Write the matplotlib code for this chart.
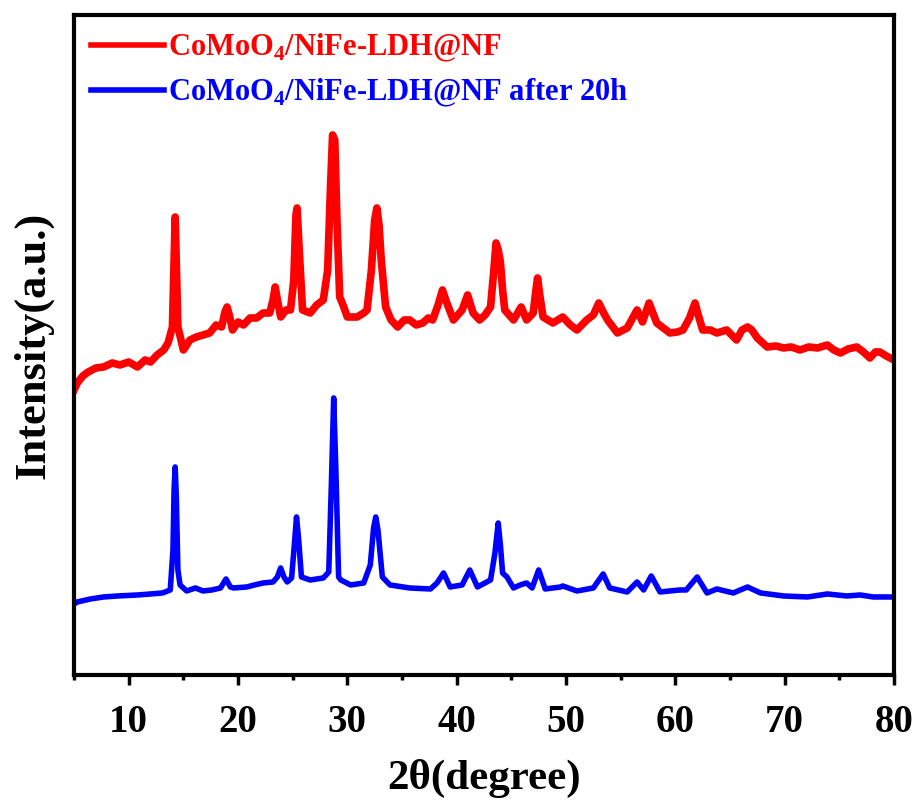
import matplotlib
matplotlib.use('Agg')
import matplotlib.pyplot as plt
from matplotlib.ticker import MultipleLocator

# Font podobný Times New Roman (tučný)
plt.rcParams['font.family'] = ['Liberation Serif', 'DejaVu Serif']
plt.rcParams['font.weight'] = 'bold'
plt.rcParams['mathtext.fontset'] = 'custom'
plt.rcParams['mathtext.rm'] = 'Liberation Serif:bold'
plt.rcParams['mathtext.bf'] = 'Liberation Serif:bold'

# Data (2θ ve stupních, intenzita v libovolných jednotkách)
red_x = [5.0, 5.3, 5.8, 6.3, 7.0, 7.7, 8.5, 9.2, 10.0, 10.8, 11.5, 12.0, 12.6, 13.2, 13.6,
         14.0, 14.15, 14.25, 14.35, 14.5, 15.0, 15.6, 16.2, 16.8, 17.4, 18.0, 18.5, 18.8, 19.0,
         19.2, 19.5, 20.0, 20.5, 21.1, 21.7, 22.3, 22.9, 23.2, 23.4, 23.6, 23.9, 24.4, 24.8,
         25.1, 25.3, 25.4, 25.6, 25.9, 26.6, 27.2, 27.8, 28.2, 28.45, 28.65, 28.85, 29.05, 29.3,
         29.6, 30.0, 30.9, 31.5, 31.8, 32.2, 32.5, 32.7, 32.9, 33.1, 33.5, 34.0, 34.6, 35.2,
         35.7, 36.3, 36.9, 37.4, 37.8, 38.3, 38.7, 39.1, 39.7, 40.1, 40.5, 41.0, 41.5, 42.1,
         42.6, 43.1, 43.4, 43.6, 43.8, 44.0, 44.2, 44.4, 45.2, 45.9, 46.4, 47.0, 47.25, 47.4,
         47.6, 47.9, 48.8, 49.7, 50.4, 51.0, 51.9, 52.5, 53.0, 53.4, 53.8, 54.7, 55.6, 56.5,
         57.0, 57.6, 58.3, 59.5, 60.2, 60.7, 61.3, 61.8, 62.1, 62.5, 63.2, 63.8, 64.7, 65.6,
         66.1, 66.6, 67.0, 67.5, 68.4, 69.2, 69.9, 70.6, 71.4, 72.2, 73.0, 73.9, 74.5, 75.1,
         75.8, 76.6, 77.2, 77.8, 78.3, 78.7, 79.3, 80.0]
red_y = [285, 292, 299, 303, 307, 308, 312, 310, 313, 308, 315, 313, 320, 325, 332,
         348, 415, 458, 415, 348, 325, 335, 338, 340, 342, 350, 348, 363, 368,
         360, 345, 353, 350, 357, 357, 362, 362, 375, 388, 375, 358, 365, 365,
         395, 460, 467, 425, 365, 362, 370, 375, 405, 485, 540, 535, 455, 378,
         370, 358, 358, 362, 365, 405, 455, 467, 450, 415, 368, 355, 348, 355,
         355, 350, 352, 357, 355, 370, 385, 372, 355, 360, 365, 380, 362, 355,
         360, 368, 405, 432, 425, 413, 385, 365, 355, 368, 355, 362, 385, 397,
         380, 358, 352, 358, 350, 345, 355, 360, 372, 363, 355, 342, 347, 365,
         353, 372, 352, 342, 343, 345, 357, 372, 360, 345, 345, 342, 345, 335,
         345, 348, 345, 337, 328, 329, 327, 328, 325, 328, 327, 330, 325, 322,
         326, 328, 323, 317, 323, 323, 319, 315]

blue_x = [5.0, 5.3, 6.5, 7.7, 9.0, 10.8, 12.0, 13.1, 13.8, 14.05, 14.15, 14.25, 14.35, 14.5,
          14.7, 15.3, 16.1, 16.8, 17.6, 18.4, 18.9, 19.3, 19.6, 20.8, 21.5, 22.3, 23.2, 23.6,
          23.9, 24.2, 24.5, 24.9, 25.15, 25.35, 25.55, 25.8, 26.6, 27.2, 27.8, 28.3, 28.55,
          28.75, 28.95, 29.2, 29.4, 30.3, 31.5, 32.1, 32.4, 32.6, 32.8, 33.2, 33.9, 35.7, 37.6,
          38.2, 38.8, 39.4, 40.5, 41.2, 41.9, 43.1, 43.5, 43.8, 44.0, 44.2, 44.6, 45.2, 45.8,
          46.4, 46.9, 47.5, 48.1, 49.5, 49.7, 51.0, 52.5, 53.4, 54.0, 55.6, 56.5, 57.1, 57.8,
          58.6, 60.4, 61.0, 62.0, 62.9, 63.8, 65.3, 66.6, 67.8, 69.9, 72.1, 73.9, 75.7, 76.9,
          78.1, 80.0]
blue_y = [71, 73, 76, 78, 79, 80, 81, 82, 85, 125, 185, 208, 180, 105,
          90, 84, 87, 84, 85, 87, 96, 88, 87, 88, 90, 92, 93, 98,
          107, 98, 93, 97, 130, 158, 135, 98, 95, 96, 97, 103, 195,
          277, 205, 98, 95, 90, 92, 110, 147, 158, 145, 98, 90, 87, 86,
          92, 102, 88, 90, 105, 88, 95, 122, 152, 130, 102, 98, 87, 90,
          92, 87, 105, 86, 88, 89, 84, 87, 101, 87, 83, 93, 85, 99,
          83, 85, 85, 98, 82, 86, 82, 88, 82, 79, 78, 81, 79, 80,
          78, 78]

labels = ['CoMoO$_4$/NiFe-LDH@NF', 'CoMoO$_4$/NiFe-LDH@NF after 20h']

fig = plt.figure(figsize=(9.22, 8.10), dpi=100)
ax = fig.add_axes([0.0803, 0.1667, 0.8893, 0.8148])

ax.plot(red_x, red_y, color='#ff0000', lw=5.5, solid_joinstyle='round', label=labels[0])
ax.plot(blue_x, blue_y, color='#0000ff', lw=4, solid_joinstyle='round', label=labels[1])

ax.set_xlim(5, 80)
ax.set_ylim(0, 660)
ax.set_yticks([])
ax.xaxis.set_major_locator(MultipleLocator(10))
ax.xaxis.set_minor_locator(MultipleLocator(5))
ax.tick_params(axis='x', which='major', direction='out', length=7, width=2.5,
               labelsize=28, pad=14)
ax.tick_params(axis='x', which='minor', direction='out', length=3.5, width=2.5)
for s in ax.spines.values():
    s.set_linewidth(3)

ax.set_xlabel('2θ(degree)', fontsize=31, fontweight='bold', labelpad=13)
ax.set_ylabel('Intensity(a.u.)', fontsize=32, fontweight='bold', labelpad=15)

leg = ax.legend(loc='upper left', frameon=False, fontsize=22, handlelength=2.4,
                handletextpad=0.12, labelspacing=0.42, borderaxespad=0.15,
                labelcolor='linecolor')
for line in leg.get_lines():
    line.set_linewidth(4)

plt.savefig('out.png', dpi=100)
